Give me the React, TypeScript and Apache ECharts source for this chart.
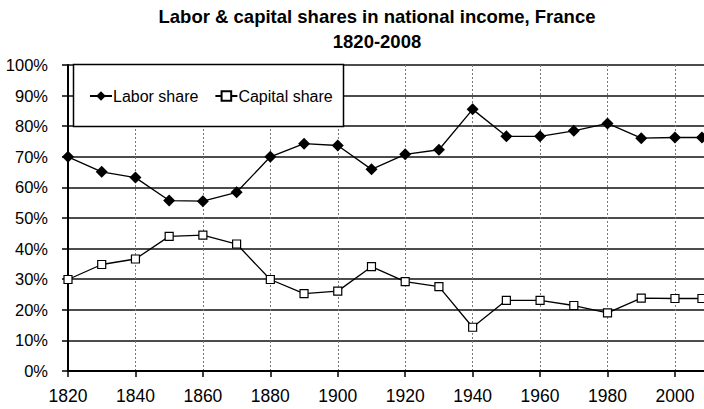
import React, { useEffect, useRef } from "react";
import * as echarts from "echarts";

const years = [1820, 1830, 1840, 1850, 1860, 1870, 1880, 1890, 1900, 1910, 1920, 1930, 1940, 1950, 1960, 1970, 1980, 1990, 2000, 2008];
const laborShare = [70.0, 65.1, 63.2, 55.7, 55.5, 58.4, 70.0, 74.3, 73.7, 65.9, 70.8, 72.3, 85.5, 76.7, 76.7, 78.5, 80.9, 76.1, 76.3, 76.3];
const capitalShare = [29.9, 34.8, 36.6, 44.0, 44.4, 41.5, 29.9, 25.3, 26.1, 34.1, 29.2, 27.6, 14.3, 23.1, 23.1, 21.4, 19.0, 23.8, 23.7, 23.7];
const titleLines = ["Labor & capital shares in national income, France", "1820-2008"];

const FONT = "'Liberation Sans', Arial, Helvetica, sans-serif";

export default function App() {
  const ref = useRef<HTMLDivElement>(null);
  useEffect(() => {
    if (!ref.current) return;
    const chart = echarts.init(ref.current, undefined, { renderer: "svg" });
    chart.setOption({
      animation: false,
      backgroundColor: "#fff",
      textStyle: { fontFamily: FONT, color: "#000" },
      graphic: [
        {
          type: "text",
          x: 377,
          y: 16,
          z: 20,
          style: { text: titleLines[0], textAlign: "center", textVerticalAlign: "middle", font: `bold 18.5px ${FONT}`, fill: "#000" },
        },
        {
          type: "text",
          x: 377,
          y: 41,
          z: 20,
          style: { text: titleLines[1], textAlign: "center", textVerticalAlign: "middle", font: `bold 18.5px ${FONT}`, fill: "#000" },
        },
        {
          type: "rect",
          z: 5,
          shape: { x: 73.5, y: 64.5, width: 270, height: 62 },
          style: { fill: "#fff", stroke: "#000", lineWidth: 1.5 },
        },
      ],
      legend: {
        z: 10,
        left: 84,
        top: 83,
        itemWidth: 22,
        itemHeight: 12,
        itemGap: 16,
        textStyle: { fontSize: 16, fontFamily: FONT, color: "#000", padding: [0, 0, 0, -4] },
        data: ["Labor share", "Capital share"],
      },
      grid: { left: 68, right: -38.4, top: 65, bottom: 38, outerBoundsMode: "none", containLabel: false },
      xAxis: {
        type: "value",
        min: 1820,
        max: 2020,
        interval: 20,
        axisLine: { show: true, lineStyle: { color: "#000", width: 2 } },
        axisTick: { show: true, length: 6, lineStyle: { color: "#000", width: 1.5 } },
        axisLabel: {
          fontSize: 17.5,
          color: "#000",
          fontFamily: FONT,
          margin: 16,
          formatter: (v: number) => (v > 2000 ? "" : String(v)),
        },
        splitLine: { show: true, lineStyle: { color: "#777", width: 1, type: [2, 2] } },
      },
      yAxis: {
        type: "value",
        min: 0,
        max: 100,
        interval: 10,
        axisLine: { show: true, lineStyle: { color: "#000", width: 2 } },
        axisTick: { show: true, length: 6, lineStyle: { color: "#000", width: 1.5 } },
        axisLabel: { fontSize: 16.5, color: "#000", fontFamily: FONT, margin: 20, formatter: "{value}%" },
        splitLine: { show: true, lineStyle: { color: "#111", width: 1.5 } },
      },
      series: [
        {
          name: "Labor share",
          type: "line",
          data: years.map((y, i) => [y, laborShare[i]]),
          symbol: "diamond",
          symbolSize: 12,
          lineStyle: { color: "#000", width: 1.3 },
          itemStyle: { color: "#000" },
          z: 3,
        },
        {
          name: "Capital share",
          type: "line",
          data: years.map((y, i) => [y, capitalShare[i]]),
          symbol: "rect",
          symbolSize: 8,
          lineStyle: { color: "#000", width: 1.3 },
          itemStyle: { color: "#fff", borderColor: "#000", borderWidth: 1.2 },
          z: 3,
        },
      ],
    });
    return () => chart.dispose();
  }, []);
  return <div ref={ref} style={{ position: "fixed", left: 0, top: 0, width: 704, height: 409 }} />;
}
